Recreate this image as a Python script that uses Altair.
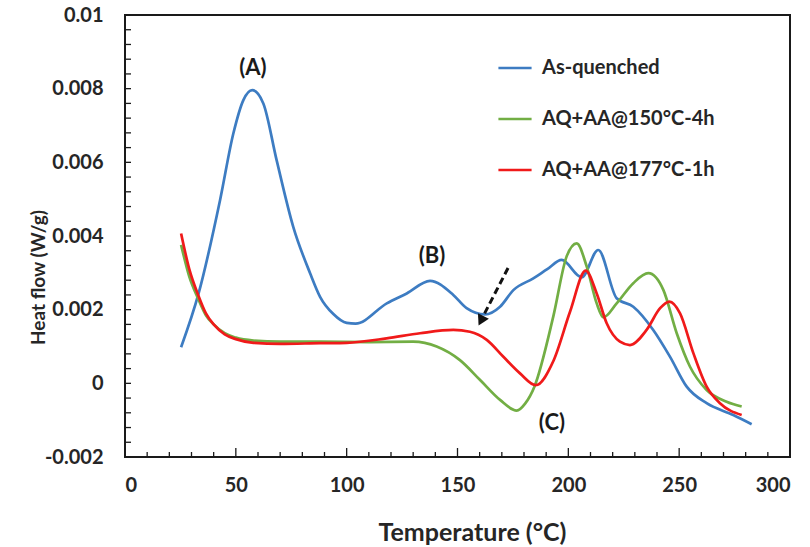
import altair as alt
import pandas as pd

# ---- data ----
series_names = ["As-quenched", "AQ+AA@150°C-4h", "AQ+AA@177°C-1h"]
series_colors = ["#3d7cc2", "#72ae44", "#f01a1a"]

blue_x = [25.3, 33.2, 42.9, 48.9, 53.4, 57.4, 62.4, 68.4, 75.9, 83.5, 88.0, 94.0, 100.0, 104.0,
          118.1, 127.1, 137.6, 148.1, 154.1, 162.4, 169.2, 175.2, 184.2, 190.5, 197.0,
          206.0, 213.5, 221.8, 229.3, 238.3, 245.9, 253.4, 262.4, 274.4, 282.7]
blue_y = [0.00098, 0.00244, 0.00498, 0.00679, 0.00769, 0.00796, 0.00760, 0.00606, 0.00425,
          0.00299, 0.00235, 0.00188, 0.00164, 0.00162, 0.00217, 0.00244, 0.00278, 0.00240,
          0.00204, 0.00187, 0.00208, 0.00253, 0.00285, 0.00310, 0.00335, 0.00288, 0.00362,
          0.00231, 0.00208, 0.00145, 0.00072, -0.00009, -0.00054, -0.00086, -0.00111]

green_x = [25.3, 29.0, 33.0, 36.5, 40.0, 45.0, 50.0, 58.0, 70.0, 88.0, 110.0, 130.0, 140.6,
           151.1, 160.2, 169.2, 176.7, 180.5, 184.7, 193.2, 199.2, 203.8, 208.3, 212.8,
           215.8, 221.8, 229.3, 236.1, 242.9, 248.9, 254.9, 262.4, 271.4, 278.2]
green_y = [0.00376, 0.00290, 0.00230, 0.00185, 0.00160, 0.00136, 0.00124, 0.00116, 0.00113,
           0.00113, 0.00112, 0.00113, 0.00100, 0.00063, 0.00009, -0.00045, -0.00074,
           -0.00055, -0.00009, 0.00181, 0.00344, 0.00380, 0.00317, 0.00217, 0.00179,
           0.00217, 0.00272, 0.00299, 0.00253, 0.00136, 0.00045, -0.00018, -0.00050, -0.00063]

red_x = [25.3, 29.0, 33.0, 36.5, 40.0, 45.0, 50.0, 58.0, 70.0, 88.0, 100.0, 118.0, 133.1,
         148.1, 155.6, 163.2, 170.7, 178.2, 185.3, 193.2, 200.8, 207.8, 212.8, 217.3, 223.3,
         227.8, 235.3, 241.4, 245.6, 250.4, 256.4, 262.4, 268.4, 278.2]
red_y = [0.00407, 0.00310, 0.00240, 0.00190, 0.00160, 0.00133, 0.00120, 0.00110, 0.00107,
         0.00109, 0.00110, 0.00122, 0.00136, 0.00145, 0.00140, 0.00118, 0.00072, 0.00027,
         -0.00005, 0.00060, 0.00195, 0.00306, 0.00244, 0.00163, 0.00113, 0.00104, 0.00145,
         0.00204, 0.00222, 0.00190, 0.00082, -0.00009, -0.00054, -0.00086]

note_text = ["(A)", "(B)", "(C)"]
note_x = [57.7, 138.5, 192.6]
note_y = [0.00856, 0.00347, -0.00108]

arrow_x = [172.8]
arrow_y = [0.00313]
arrow_x2 = [161.8]
arrow_y2 = [0.00185]
arrow_head_x = [160.6]
arrow_head_y = [0.00170]

x_label_values = [0, 50, 100, 150, 200, 250, 300]
y_label_values = [-0.002, 0, 0.002, 0.004, 0.006, 0.008, 0.01]
x_minor_ticks = [v for v in range(0, 301, 10) if v % 50 != 0]
x_major_ticks = [0, 50, 100, 150, 200, 250, 300]
y_tick_values = [round(-0.002 + 0.0004 * k, 4) for k in range(31)]

# ---- tables ----
rows = []
for name, xs, ys in zip(series_names, [blue_x, green_x, red_x], [blue_y, green_y, red_y]):
    for xv, yv in zip(xs, ys):
        rows.append({"series": name, "x": xv, "y": yv})
df = pd.DataFrame(rows)
notes = pd.DataFrame({"t": note_text, "x": note_x, "y": note_y})
arrow = pd.DataFrame({"x": arrow_x, "y": arrow_y, "x2": arrow_x2, "y2": arrow_y2})
head = pd.DataFrame({"x": arrow_head_x, "y": arrow_head_y})
xminor = pd.DataFrame({"x": x_minor_ticks})
xmajor = pd.DataFrame({"x": x_major_ticks})
yticks = pd.DataFrame({"y": y_tick_values})

W, H = 665, 442
FONT = "Lato"
TXT = "#262626"
TICK = "#1a1a1a"

xscale = alt.Scale(domain=[0, 300], nice=False, zero=False)
yscale = alt.Scale(domain=[-0.002, 0.01], nice=False, zero=False)

x_main = alt.Axis(values=x_label_values, ticks=False, tickSize=0, domain=False, grid=False,
                  labelFont=FONT, labelFontSize=20, labelFontWeight="bold", labelColor=TXT,
                  labelPadding=18, title="Temperature (°C)", titleFont=FONT, titleFontSize=25,
                  titleFontWeight="bold", titleColor=TXT, titleX=347, titleY=75,
                  titleBaseline="middle", titleAlign="center")
y_main = alt.Axis(values=y_label_values, ticks=False, tickSize=0, domain=False, grid=False,
                  labelExpr="datum.value == 0 ? '0' : replace(format(datum.value, '~g'), '\u2212', '-')",
                  labelFont=FONT, labelFontSize=20, labelFontWeight="bold", labelColor=TXT,
                  labelPadding=22, title="Heat flow (W/g)", titleFont=FONT, titleFontSize=19,
                  titleFontWeight="bold", titleColor=TXT, titleX=-87, titleY=262,
                  titleBaseline="middle", titleAlign="center", titleAngle=270)

lines = alt.Chart(df).mark_line(strokeWidth=2.7, interpolate="monotone").encode(
    x=alt.X("x:Q", scale=xscale, axis=x_main),
    y=alt.Y("y:Q", scale=yscale, axis=y_main),
    color=alt.Color("series:N", sort=series_names,
                    scale=alt.Scale(domain=series_names, range=series_colors),
                    legend=alt.Legend(orient="none", legendX=372, legendY=35, title=None,
                                      symbolType="stroke", symbolSize=1100,
                                      symbolStrokeWidth=2.7, labelFont=FONT,
                                      labelFontSize=20, labelFontWeight="bold",
                                      labelColor=TXT, labelOffset=9, rowPadding=23,
                                      labelLimit=400)),
)

minor_x = alt.Chart(xminor).mark_rule(color=TICK, strokeWidth=1.3).encode(
    x=alt.X("x:Q", scale=xscale, axis=None),
    y=alt.value(H), y2=alt.value(H - 5),
)
major_x = alt.Chart(xmajor).mark_rule(color=TICK, strokeWidth=1.3).encode(
    x=alt.X("x:Q", scale=xscale, axis=None),
    y=alt.value(H), y2=alt.value(H - 9),
)
ticks_y = alt.Chart(yticks).mark_rule(color=TICK, strokeWidth=1.3).encode(
    y=alt.Y("y:Q", scale=yscale, axis=None),
    x=alt.value(0), x2=alt.value(6),
)

texts = alt.Chart(notes).mark_text(font=FONT, fontSize=22, fontWeight="bold", color="#1a1a1a").encode(
    x=alt.X("x:Q", scale=xscale, axis=None),
    y=alt.Y("y:Q", scale=yscale, axis=None),
    text="t:N",
)

arrow_line = alt.Chart(arrow).mark_rule(strokeWidth=3, strokeDash=[7, 4], color="#111").encode(
    x=alt.X("x:Q", scale=xscale, axis=None),
    y=alt.Y("y:Q", scale=yscale, axis=None),
    x2="x2:Q",
    y2="y2:Q",
)

arrow_head = alt.Chart(head).mark_point(shape="triangle-up", filled=True, size=150, angle=207,
                                        color="#111", opacity=1).encode(
    x=alt.X("x:Q", scale=xscale, axis=None),
    y=alt.Y("y:Q", scale=yscale, axis=None),
)

chart = alt.layer(minor_x, major_x, ticks_y, lines, texts, arrow_line, arrow_head).resolve_axis(
    x="independent", y="independent"
).properties(
    width=W, height=H,
    autosize=alt.AutoSizeParams(type="none"),
    padding={"left": 125, "top": 15, "right": 20, "bottom": 90},
    background="white",
).configure_view(stroke="#1a1a1a", strokeWidth=2)

chart.save("out.html", embed_options={"renderer": "svg", "actions": False})
